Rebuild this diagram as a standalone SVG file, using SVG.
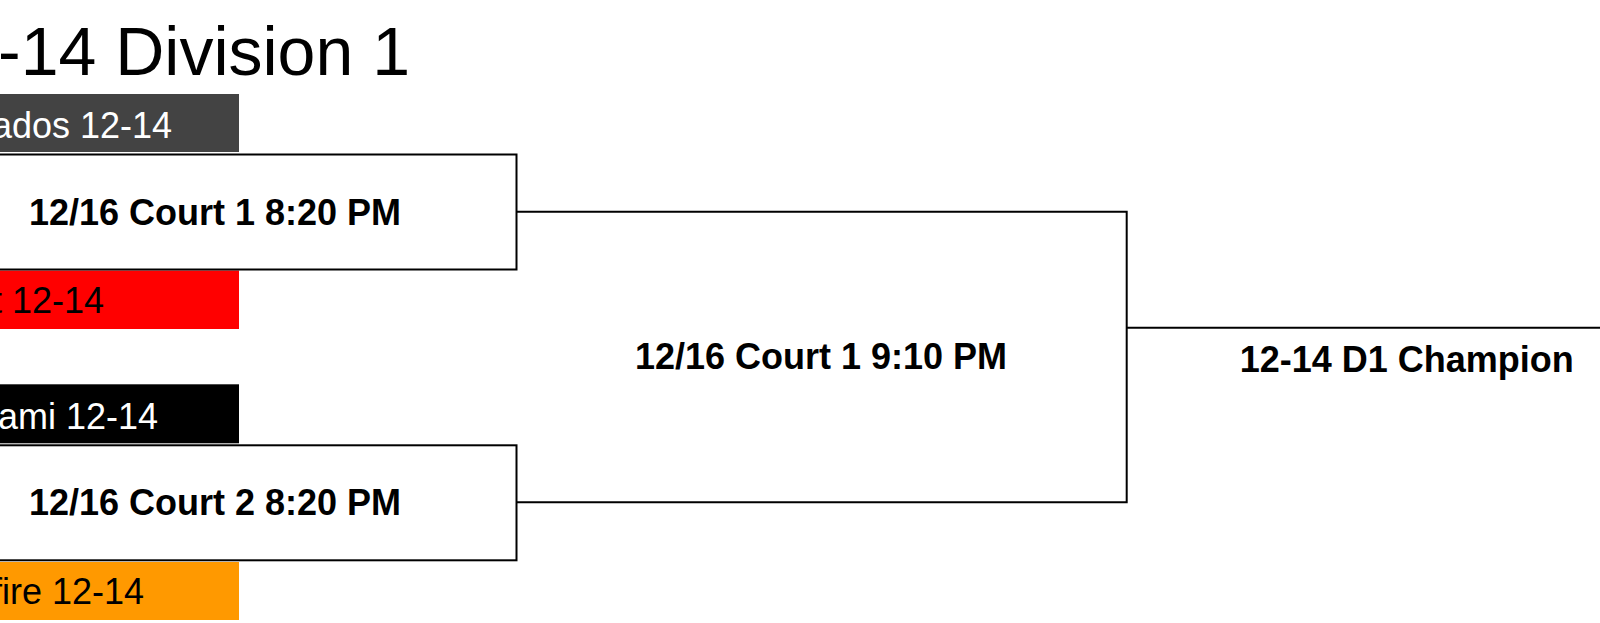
<svg xmlns="http://www.w3.org/2000/svg" width="1600" height="623" viewBox="0 0 1600 623">
<style>
.title{font-family:"Liberation Sans",Arial,sans-serif;font-size:68px;fill:#000}
.team{font-family:"Liberation Sans",Arial,sans-serif;font-size:36px}
.match{font-family:"Liberation Sans",Arial,sans-serif;font-size:36px;font-weight:bold;fill:#000;text-anchor:middle}
.box{fill:#fff;stroke:#000;stroke-width:2}
.conn{fill:none;stroke:#000;stroke-width:2}
</style>
<rect x="0" y="0" width="1600" height="623" fill="#fff"/>
<g id="title"><text class="title" x="-2" y="75">-14 Division 1</text></g>
<g id="team1"><rect x="-10" y="94" width="249" height="58" fill="#434343"/><text class="team" x="-8" y="138" fill="#fff">ados 12-14</text></g>
<g id="team2"><rect x="-10" y="270.5" width="249" height="58.5" fill="#ff0000"/><text class="team" x="-8" y="313" fill="#000">t 12-14</text></g>
<g id="team3"><rect x="-10" y="384.3" width="249" height="59" fill="#000"/><text class="team" x="-2" y="429" fill="#fff">ami 12-14</text></g>
<g id="team4"><rect x="-10" y="562" width="249" height="58" fill="#ff9900"/><text class="team" x="-8" y="604" fill="#000">fire 12-14</text></g>
<g id="connectors">
<path class="conn" d="M516.5 211.7 H1126.7 V502.3 H516.5"/>
<path class="conn" d="M1126.7 327.7 H1600"/>
</g>
<g id="match1"><rect class="box" x="-90" y="154.5" width="606.5" height="115"/><text class="match" x="215" y="225">12/16 Court 1 8:20 PM</text></g>
<g id="match2"><rect class="box" x="-90" y="445.3" width="606.5" height="115"/><text class="match" x="215" y="515">12/16 Court 2 8:20 PM</text></g>
<g id="match3"><text class="match" x="821" y="369">12/16 Court 1 9:10 PM</text></g>
<g id="champion"><text class="match" x="1406.7" y="371.7">12-14 D1 Champion</text></g>
</svg>
